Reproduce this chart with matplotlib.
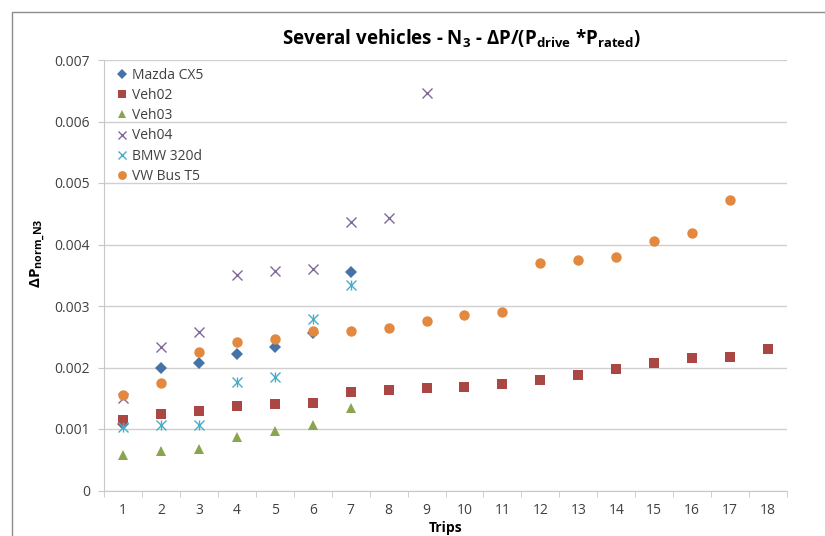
import matplotlib
matplotlib.use("Agg")
import matplotlib.pyplot as plt
from matplotlib.patches import Rectangle

plt.rcParams["font.family"] = ["Open Sans", "DejaVu Sans"]
plt.rcParams["mathtext.fontset"] = "custom"
plt.rcParams["mathtext.rm"] = "Open Sans"
plt.rcParams["mathtext.bf"] = "Open Sans:bold"
plt.rcParams["mathtext.it"] = "Open Sans:italic"

trips = list(range(1, 19))

mazda_trips = [1, 2, 3, 4, 5, 6, 7]
mazda_vals = [0.00108, 0.00200, 0.00208, 0.00222, 0.00233, 0.00256, 0.00355]

veh02_trips = list(range(1, 19))
veh02_vals = [0.00114, 0.00124, 0.00130, 0.00137, 0.00141, 0.00142, 0.00160, 0.00164,
              0.00166, 0.00168, 0.00173, 0.00179, 0.00187, 0.00198, 0.00207, 0.00215,
              0.00217, 0.00230]

veh03_trips = [1, 2, 3, 4, 5, 6, 7]
veh03_vals = [0.00058, 0.00064, 0.00067, 0.00087, 0.00096, 0.00106, 0.00134]

veh04_trips = [1, 2, 3, 4, 5, 6, 7, 8, 9]
veh04_vals = [0.00150, 0.00233, 0.00257, 0.00350, 0.00357, 0.00360, 0.00437, 0.00443, 0.00647]

bmw_trips = [1, 2, 3, 4, 5, 6, 7]
bmw_vals = [0.00103, 0.00106, 0.00107, 0.00176, 0.00184, 0.00279, 0.00334]

vw_trips = list(range(1, 18))
vw_vals = [0.00155, 0.00174, 0.00226, 0.00241, 0.00246, 0.00260, 0.00260, 0.00265,
           0.00275, 0.00286, 0.00291, 0.00370, 0.00374, 0.00379, 0.00405, 0.00418,
           0.00472]

series = [
    ("Mazda CX5", mazda_trips, mazda_vals, "D", "#4572A7", 6),
    ("Veh02", veh02_trips, veh02_vals, "s", "#AA4643", 7),
    ("Veh03", veh03_trips, veh03_vals, "^", "#89A54E", 7),
    ("Veh04", veh04_trips, veh04_vals, "x", "#80699B", 7.5),
    ("BMW 320d", bmw_trips, bmw_vals, "x", "#4BACC6", 7.5),
    ("VW Bus T5", vw_trips, vw_vals, "o", "#E3893F", 7.5),
]

fig = plt.figure(figsize=(8.25, 5.36), dpi=100)
fig.patch.set_facecolor("white")

# chart frame
fig.patches.append(Rectangle((12 / 825, -0.05), 1.0, 1 - 12 / 536 + 0.05,
                             transform=fig.transFigure, fill=False,
                             edgecolor="#8c8c8c", linewidth=1.0))

ax = fig.add_axes([104 / 825, 1 - 490.5 / 536, (787 - 104) / 825, (490.5 - 60) / 536])

for name, xs, ys, mk, col, ms in series:
    if mk == "x":
        ax.plot(xs, ys, linestyle="none", marker=mk, color=col, markersize=ms,
                markeredgewidth=1.0, label=name, zorder=3)
        if name == "BMW 320d":
            ax.plot(xs, ys, linestyle="none", marker="|", color=col, markersize=ms * 0.95,
                    markeredgewidth=1.0, zorder=3)
    else:
        ax.plot(xs, ys, linestyle="none", marker=mk, color=col, markersize=ms,
                markeredgewidth=0, label=name, zorder=3)

ax.set_xlim(0.5, 18.5)
ax.set_ylim(0, 0.007)
ax.set_yticks([i * 0.001 for i in range(8)])
ax.set_yticklabels(["0", "0.001", "0.002", "0.003", "0.004", "0.005", "0.006", "0.007"])
ax.set_xticks(trips)
ax.set_xticklabels([str(t) for t in trips])
ax.set_xticks([t + 0.5 for t in range(0, 19)], minor=True)
ax.tick_params(axis="x", which="major", length=0, pad=9, labelsize=10, labelcolor="#404040")
ax.tick_params(axis="x", which="minor", length=4, color="#c8c8c8", direction="out")
ax.tick_params(axis="y", length=4, color="#c8c8c8", labelsize=10, labelcolor="#404040", pad=6)

ax.grid(axis="y", color="#d0d0d0", linewidth=1.0)
ax.set_axisbelow(True)
for side in ["top", "right"]:
    ax.spines[side].set_visible(False)
ax.spines["left"].set_color("#c8c8c8")
ax.spines["bottom"].set_color("#c8c8c8")

ax.set_ylabel(r"$\mathbf{\Delta P}_{\mathbf{norm\_N3}}$", fontsize=11)
ax.yaxis.set_label_coords(-0.082, 0.55)
ax.set_xlabel("Trips", fontsize=10, fontweight="bold", labelpad=2)

fig.text(461 / 825, 1 - 38 / 536,
         r"Several vehicles - N$_\mathbf{3}$ - ΔP/(P$_\mathbf{drive}$ *P$_\mathbf{rated}$)",
         ha="center", va="center", fontsize=13.5, fontweight="bold")

leg = ax.legend(loc="upper left", bbox_to_anchor=(0.0, 1.005), frameon=False,
                fontsize=10, handletextpad=0.1, labelspacing=0.38, borderaxespad=0.3,
                handlelength=1.2, markerscale=0.85)
for t in leg.get_texts():
    t.set_color("#404040")

fig.savefig("out.png", dpi=100, facecolor="white")
